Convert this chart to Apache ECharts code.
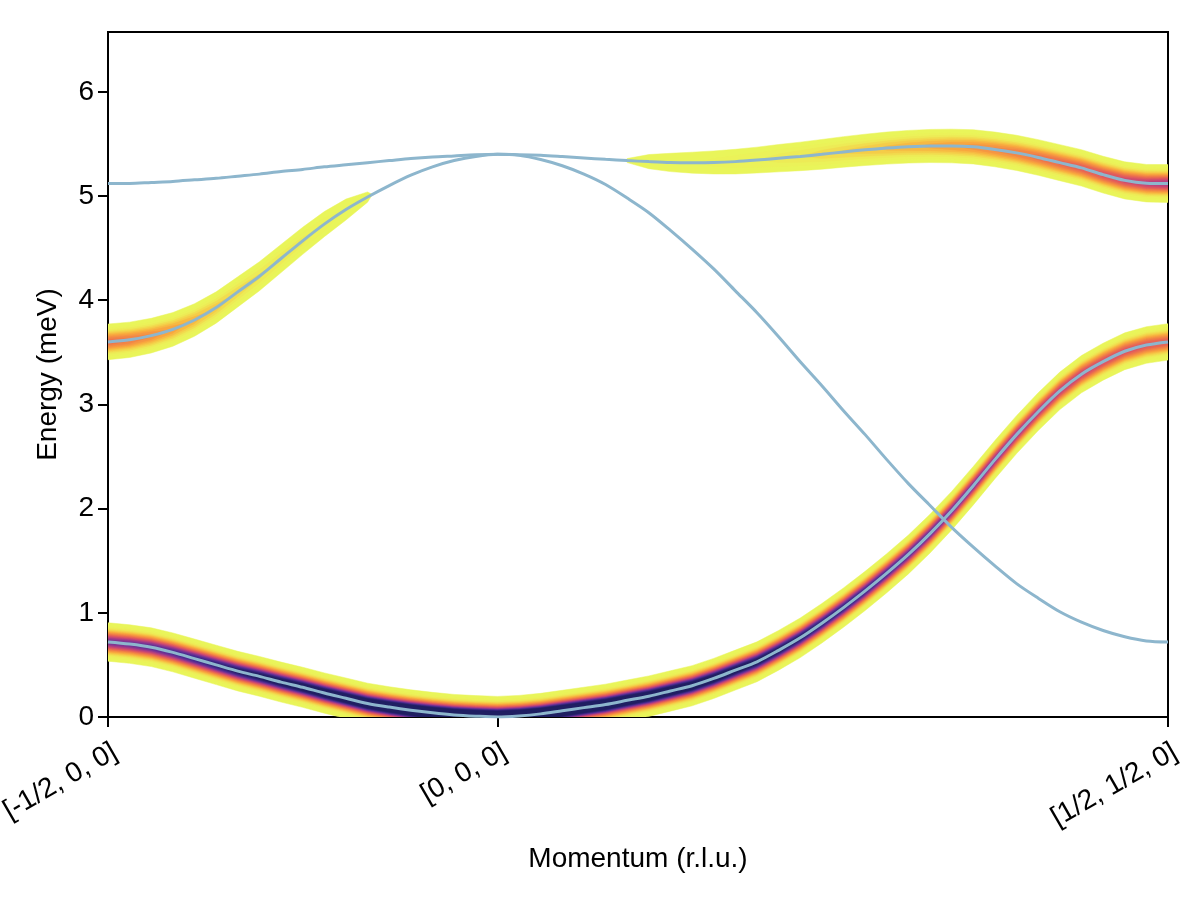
<!DOCTYPE html>
<html><head><meta charset="utf-8">
<script src="https://cdn.jsdelivr.net/npm/echarts@6/dist/echarts.min.js"></script>
<style>html,body{margin:0;padding:0;background:#fff}#c{width:1200px;height:900px}</style>
</head><body><div id="c"></div>
<script>
// ---- data ----
const tickLabels = ['[-1/2, 0, 0]', '[0, 0, 0]', '[1/2, 1/2, 0]'];
const tickPositions = [0, 18, 49];
const energyTicks = [0, 1, 2, 3, 4, 5, 6];
const qIndex = [0,1,2,3,4,5,6,7,8,9,10,11,12,13,14,15,16,17,18,19,20,21,22,23,24,25,26,27,28,29,30,31,32,33,34,35,36,37,38,39,40,41,42,43,44,45,46,47,48,49];
const modeA = [5.12,5.12,5.13,5.14,5.155,5.17,5.19,5.21,5.235,5.255,5.28,5.30,5.32,5.34,5.36,5.375,5.385,5.395,5.40,
  5.397,5.39,5.378,5.365,5.352,5.34,5.33,5.322,5.32,5.322,5.33,5.345,5.363,5.38,5.40,5.423,5.443,5.46,5.473,5.48,5.48,5.472,5.447,5.414,5.37,5.32,5.27,5.205,5.15,5.123,5.12];
const modeB = [3.60,3.62,3.66,3.72,3.81,3.93,4.08,4.23,4.40,4.57,4.73,4.87,4.99,5.10,5.20,5.28,5.34,5.38,5.40,
  5.39,5.35,5.29,5.21,5.11,4.98,4.84,4.67,4.49,4.30,4.09,3.88,3.65,3.41,3.18,2.94,2.71,2.47,2.24,2.03,1.82,1.63,1.45,1.28,1.14,1.01,0.91,0.83,0.77,0.73,0.72];
const modeC = [0.72,0.70,0.67,0.62,0.56,0.50,0.44,0.39,0.335,0.285,0.23,0.18,0.13,0.095,0.065,0.04,0.02,0.008,0.0,
  0.01,0.03,0.06,0.09,0.12,0.16,0.20,0.25,0.30,0.37,0.45,0.53,0.64,0.76,0.90,1.05,1.21,1.38,1.56,1.76,1.98,2.22,2.47,2.71,2.93,3.13,3.29,3.41,3.51,3.57,3.60];
const intensA = [0,0,0,0,0,0,0,0,0,0,0,0,0,0,0,0,0,0,0,0,0,0,0,0.01,
  0.026,0.04,0.055,0.07,0.087,0.104,0.12,0.145,0.17,0.2,0.225,0.25,0.28,0.305,0.33,0.36,0.39,0.425,0.46,0.495,0.53,0.56,0.6,0.64,0.68,0.72];
const intensB = [0.5,0.47,0.42,0.36,0.3,0.25,0.21,0.18,0.16,0.14,0.11,0.07,0.032,
  0,0,0,0,0,0,0,0,0,0,0,0,0,0,0,0,0,0,0,0,0,0,0,0,0,0,0,0,0,0,0,0,0,0,0,0,0];
const intensC = [0.8,0.82,0.85,0.88,0.92,0.96,1.0,1.04,1.07,1.1,1.13,1.17,1.2,1.23,1.25,1.28,1.3,1.33,1.35,
  1.33,1.3,1.28,1.25,1.22,1.2,1.17,1.15,1.12,1.1,1.07,1.05,1.02,1.0,0.97,0.95,0.92,0.9,0.87,0.85,0.82,0.8,0.77,0.74,0.71,0.68,0.65,0.62,0.6,0.58,0.56];

// ---- style ----
const SIGMA = 0.07, THRESH = 0.025, NLEV = 20;
const LINE_COLOR = '#8db6cd';
const FONT = "'Liberation Sans', Arimo, Arial, sans-serif";
const cmapStops = [
  [0.00, [232,246,90]], [0.11, [236,240,88]], [0.22, [245,206,72]], [0.32, [249,168,63]],
  [0.46, [240,122,72]], [0.58, [221,86,98]], [0.69, [181,63,130]], [0.78, [126,53,148]],
  [0.87, [76,44,147]], [1.00, [31,31,98]]
];
function cmap(c) {
  c = Math.max(0, Math.min(1, c));
  for (let k = 1; k < cmapStops.length; k++) {
    const a = cmapStops[k-1], b = cmapStops[k];
    if (c <= b[0]) {
      const t = (c - a[0]) / (b[0] - a[0]);
      const r = a[1].map((v, n) => Math.round(v + t * (b[1][n] - v)));
      return 'rgb(' + r.join(',') + ')';
    }
  }
  return 'rgb(31,31,98)';
}
const modes = [
  {E: modeA, I: intensA},
  {E: modeB, I: intensB},
  {E: modeC, I: intensC}
];
function levelValue(j) { return THRESH + (j / NLEV) * (1 - THRESH); }
function halfWidth(I, v) { return I > v ? SIGMA * Math.sqrt(2 * Math.log(I / v)) : 0; }

// one item per (level, mode); outer levels first so inner ones paint on top
const bandItems = [];
for (let j = 0; j <= NLEV; j++) for (let m = 0; m < modes.length; m++) bandItems.push([j, m]);

function renderBand(params, api) {
  const item = bandItems[params.dataIndex];
  const j = item[0], md = modes[item[1]];
  const v = levelValue(j);
  const color = j < NLEV ? cmap((j + 0.5) / NLEV) : cmap(1);
  const n = qIndex.length;
  const d = md.I.map(I => halfWidth(I, v));
  const children = [];
  let i = 0;
  while (i < n) {
    if (d[i] <= 0) { i++; continue; }
    const a = i;
    while (i < n && d[i] > 0) i++;
    const b = i - 1;
    const upper = [], lower = [];
    if (a > 0) {
      const f = Math.max(0, Math.min(1, (v - md.I[a-1]) / (md.I[a] - md.I[a-1])));
      const q = qIndex[a-1] + f * (qIndex[a] - qIndex[a-1]);
      const e = md.E[a-1] + f * (md.E[a] - md.E[a-1]);
      upper.push(api.coord([q, e]));
    }
    for (let k = a; k <= b; k++) {
      upper.push(api.coord([qIndex[k], md.E[k] + d[k]]));
      lower.push(api.coord([qIndex[k], md.E[k] - d[k]]));
    }
    if (b < n - 1) {
      const f = Math.max(0, Math.min(1, (md.I[b] - v) / (md.I[b] - md.I[b+1])));
      const q = qIndex[b] + f * (qIndex[b+1] - qIndex[b]);
      const e = md.E[b] + f * (md.E[b+1] - md.E[b]);
      upper.push(api.coord([q, e]));
    }
    const pts = upper.concat(lower.reverse());
    children.push({type: 'polygon', shape: {points: pts}, style: {fill: color, stroke: color, lineWidth: 0.5}});
  }
  return {type: 'group', children: children};
}

const lineSeries = [modeA, modeB, modeC].map(E => ({
  type: 'line',
  data: E.map((e, k) => [qIndex[k], e]),
  showSymbol: false,
  smooth: 0.3,
  clip: true,
  z: 5,
  silent: true,
  lineStyle: {color: LINE_COLOR, width: 3},
  itemStyle: {color: LINE_COLOR}
}));

const chart = echarts.init(document.getElementById('c'), null, {renderer: 'canvas'});
chart.setOption({
  animation: false,
  backgroundColor: '#fff',
  grid: {left: 108, right: 32, top: 32, bottom: 183, containLabel: false, outerBoundsMode: 'none',
    show: true, borderColor: '#000', borderWidth: 2, backgroundColor: 'transparent'},
  xAxis: {
    type: 'value', min: 0, max: 49,
    name: 'Momentum (r.l.u.)', nameLocation: 'middle', nameGap: 128,
    nameTextStyle: {fontSize: 28, color: '#000', fontFamily: FONT},
    axisLine: {show: true, onZero: false, lineStyle: {color: '#000', width: 2}},
    axisTick: {show: true, inside: false, length: 10, customValues: tickPositions, lineStyle: {color: '#000', width: 2}},
    axisLabel: {show: true, customValues: tickPositions, rotate: 30, margin: 21, verticalAlign: 'top',
      fontSize: 28, color: '#000', fontFamily: FONT,
      formatter: v => tickLabels[tickPositions.indexOf(Math.round(v))] || ''},
    splitLine: {show: false}
  },
  yAxis: {
    type: 'value', min: 0, max: 6.574,
    name: 'Energy (meV)', nameLocation: 'middle', nameGap: 46, nameRotate: 90,
    nameTextStyle: {fontSize: 28, color: '#000', fontFamily: FONT},
    axisLine: {show: true, onZero: false, lineStyle: {color: '#000', width: 2}},
    axisTick: {show: true, inside: false, length: 10, customValues: energyTicks, lineStyle: {color: '#000', width: 2}},
    axisLabel: {show: true, customValues: energyTicks, margin: 14, fontSize: 28, color: '#000', fontFamily: FONT},
    splitLine: {show: false}
  },
  series: [{
    type: 'custom',
    renderItem: renderBand,
    data: bandItems,
    encode: {x: 0, y: 1},
    clip: true,
    silent: true,
    z: 2
  }].concat(lineSeries)
});
</script></body></html>
